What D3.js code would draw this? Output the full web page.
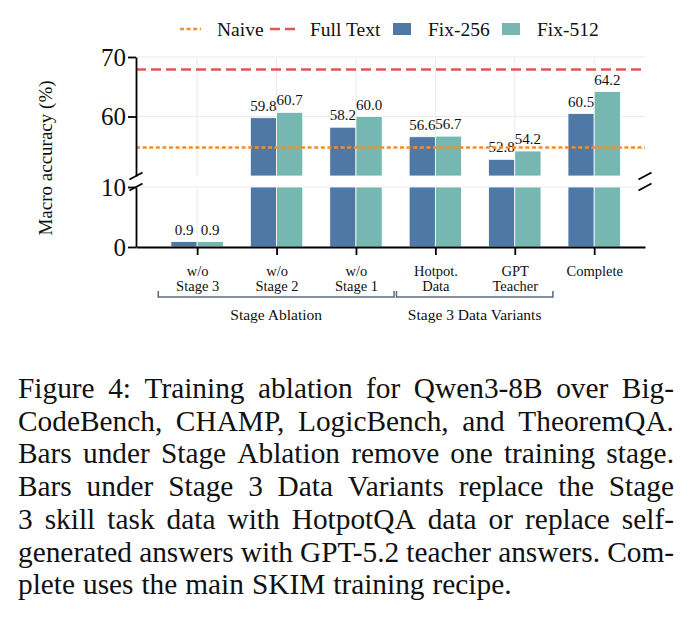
<!DOCTYPE html>
<html>
<head>
<meta charset="utf-8">
<script src="https://cdn.jsdelivr.net/npm/d3@7"></script>
<style>
  body { margin: 0; background: #fff; }
</style>
</head>
<body>
<svg width="691" height="635"></svg>
<script>
// data
var categories = [["w/o", "Stage 3"], ["w/o", "Stage 2"], ["w/o", "Stage 1"], ["Hotpot.", "Data"], ["GPT", "Teacher"], ["Complete"]];
var fix256 = [0.9, 59.8, 58.2, 56.6, 52.8, 60.5];
var fix512 = [0.9, 60.7, 60.0, 56.7, 54.2, 64.2];
var naive = 54.8;
var fullText = 67.9;
var topTicks = [60, 70];
var bottomTicks = [0, 10];
var groups = [
  {label: "Stage Ablation", from: 0, to: 2},
  {label: "Stage 3 Data Variants", from: 3, to: 4}
];
var captionLines = [
  "Figure 4:  Training ablation for Qwen3-8B over Big-",
  "CodeBench, CHAMP, LogicBench, and TheoremQA.",
  "Bars under Stage Ablation remove one training stage.",
  "Bars under Stage 3 Data Variants replace the Stage",
  "3 skill task data with HotpotQA data or replace self-",
  "generated answers with GPT-5.2 teacher answers. Com-",
  "plete uses the main SKIM training recipe."
];

var serif = "'Liberation Serif', 'DejaVu Serif', serif";
var svg = d3.select("svg").attr("font-family", serif);
var colors = {fix256: "#4e79a7", fix512: "#76b7b2", naive: "#f28e2b", full: "#e15759"};

var left = 136, right = 645;
var x = d3.scaleLinear().domain([-0.77, 5.64]).range([left, right]);
var yTop = d3.scaleLinear().domain([50, 70]).range([176, 57]);
var yBot = d3.scaleLinear().domain([0, 10]).range([247, 187]);
var bw = 0.33;

// grid
var grid = svg.append("g").attr("stroke", "#ebebeb").attr("stroke-width", 1);
categories.forEach(function(c, i) {
  grid.append("line").attr("x1", x(i)).attr("x2", x(i)).attr("y1", yTop(70)).attr("y2", yTop(50));
  grid.append("line").attr("x1", x(i)).attr("x2", x(i)).attr("y1", yBot(10)).attr("y2", yBot(0));
});
topTicks.forEach(function(t) {
  grid.append("line").attr("x1", left).attr("x2", right).attr("y1", yTop(t)).attr("y2", yTop(t));
});
bottomTicks.forEach(function(t) {
  grid.append("line").attr("x1", left).attr("x2", right).attr("y1", yBot(t)).attr("y2", yBot(t));
});

// bars
function drawBars(values, off, color) {
  var g = svg.append("g").attr("fill", color).attr("stroke", "#fff").attr("stroke-width", 0.8);
  values.forEach(function(v, i) {
    var x0 = x(i + off), w = x(i + off + bw) - x(i + off);
    var lo = Math.min(v, 10);
    g.append("rect").attr("x", x0).attr("width", w).attr("y", yBot(lo)).attr("height", yBot(0) - yBot(lo));
    if (v > 50) {
      g.append("rect").attr("x", x0).attr("width", w).attr("y", yTop(v)).attr("height", yTop(50) - yTop(v));
    }
    var ty = v > 50 ? yTop(v) : yBot(v);
    svg.append("text").attr("x", x0 + w / 2).attr("y", ty - 7)
      .attr("text-anchor", "middle").attr("font-size", 15).attr("fill", "#111").text(v.toFixed(1));
  });
}
drawBars(fix256, -bw, colors.fix256);
drawBars(fix512, 0, colors.fix512);

// reference lines
svg.append("line").attr("x1", left).attr("x2", right).attr("y1", yTop(naive)).attr("y2", yTop(naive))
  .attr("stroke", colors.naive).attr("stroke-width", 2.4).attr("stroke-dasharray", "4,2.6");
svg.append("line").attr("x1", left).attr("x2", right).attr("y1", yTop(fullText)).attr("y2", yTop(fullText))
  .attr("stroke", colors.full).attr("stroke-width", 2.4).attr("stroke-dasharray", "10,5");

// axes
function yAxis(scale, ticks) {
  var a = svg.append("g").attr("transform", "translate(" + left + ",0)")
    .call(d3.axisLeft(scale).tickValues(ticks).tickSize(8).tickSizeOuter(0).tickPadding(2));
  a.attr("font-family", serif);
  a.select(".domain").attr("stroke", "#000").attr("stroke-width", 1.8);
  a.selectAll(".tick line").attr("stroke", "#000").attr("stroke-width", 1.8);
  a.selectAll(".tick text").attr("font-size", 25).attr("fill", "#111");
}
yAxis(yTop, topTicks);
yAxis(yBot, bottomTicks);

var xa = svg.append("g").attr("transform", "translate(0," + yBot(0) + ")")
  .call(d3.axisBottom(x).tickValues(d3.range(categories.length)).tickSize(8).tickSizeOuter(0).tickFormat(""));
xa.attr("font-family", serif);
xa.select(".domain").attr("stroke", "#000").attr("stroke-width", 1.8);
xa.selectAll(".tick line").attr("stroke", "#000").attr("stroke-width", 1.8);
xa.selectAll(".tick").each(function(d) {
  var t = d3.select(this).append("text").attr("text-anchor", "middle").attr("font-size", 14.5).attr("fill", "#111");
  categories[d].forEach(function(s, k) {
    t.append("tspan").attr("x", 0).attr("y", 29 + k * 15).text(s);
  });
});

// break marks
[[left, yTop(50)], [left, yBot(10)], [right, yTop(50)], [right, yBot(10)]].forEach(function(p) {
  svg.append("line").attr("x1", p[0] - 6.5).attr("y1", p[1] + 3.5).attr("x2", p[0] + 6.5).attr("y2", p[1] - 3.5)
    .attr("stroke", "#000").attr("stroke-width", 1.8);
});

// group brackets
var by = 297;
groups.forEach(function(gr) {
  var x1 = x(gr.from - 0.49), x2 = x(gr.to + 0.48);
  svg.append("path").attr("d", "M" + x1 + "," + (by - 6) + "V" + by + "H" + x2 + "V" + (by - 6))
    .attr("fill", "none").attr("stroke", "#5b6b7c").attr("stroke-width", 1.5);
  svg.append("text").attr("x", (x1 + x2) / 2).attr("y", by + 23).attr("text-anchor", "middle")
    .attr("font-size", 15.5).attr("fill", "#111").text(gr.label);
});

// y label
svg.append("text").attr("transform", "translate(45,158) rotate(-90)").attr("text-anchor", "middle")
  .attr("dominant-baseline", "central").attr("font-size", 19).attr("fill", "#111").text("Macro accuracy (%)");

// legend
var lg = svg.append("g").attr("font-size", 19.5).attr("fill", "#111");
lg.append("line").attr("x1", 180).attr("x2", 201).attr("y1", 29).attr("y2", 29)
  .attr("stroke", colors.naive).attr("stroke-width", 2.4).attr("stroke-dasharray", "4,2.6");
lg.append("text").attr("x", 217).attr("y", 36).text("Naive");
lg.append("line").attr("x1", 270).attr("x2", 296).attr("y1", 29).attr("y2", 29)
  .attr("stroke", colors.full).attr("stroke-width", 2.4).attr("stroke-dasharray", "10,5");
lg.append("text").attr("x", 310).attr("y", 36).text("Full Text");
lg.append("rect").attr("x", 393).attr("y", 23).attr("width", 18).attr("height", 12).attr("fill", colors.fix256);
lg.append("text").attr("x", 428).attr("y", 36).text("Fix-256");
lg.append("rect").attr("x", 502).attr("y", 23).attr("width", 18).attr("height", 12).attr("fill", colors.fix512);
lg.append("text").attr("x", 537).attr("y", 36).text("Fix-512");

// caption, justified word by word (glyphs slightly widened like the source scan)
var capLeft = 18, capRight = 674, capSize = 28.5, sx = 1.03;
captionLines.forEach(function(line, li) {
  var yy = 398 + li * 32.7;
  var words = line.split(/\s+/);
  var last = li === captionLines.length - 1;
  var g = svg.append("g").attr("fill", "#111");
  var nodes = words.map(function(w) {
    return g.append("text").attr("font-size", capSize).text(w);
  });
  var widths = nodes.map(function(n) { return n.node().getComputedTextLength() * sx; });
  var total = d3.sum(widths);
  var gap = last ? capSize * 0.27 * sx : (capRight - capLeft - total) / (words.length - 1);
  var cx = capLeft;
  nodes.forEach(function(n, k) {
    n.attr("transform", "translate(" + cx + "," + yy + ") scale(" + sx + ",1)");
    cx += widths[k] + gap;
  });
});
</script>
</body>
</html>
